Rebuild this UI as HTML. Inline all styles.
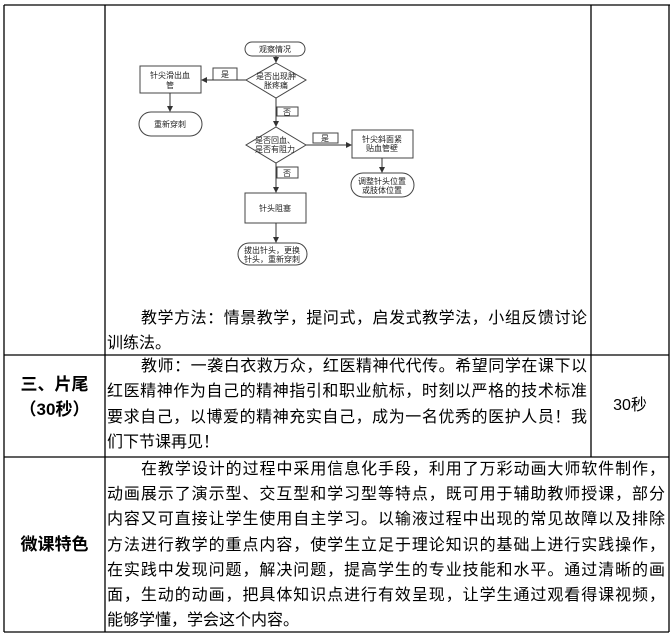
<!DOCTYPE html>
<html><head><meta charset="utf-8"><style>
html,body{margin:0;padding:0;background:#fff;}
body{width:670px;height:636px;position:relative;overflow:hidden;font-family:"Liberation Sans","Noto Sans CJK SC",sans-serif;color:#000;}
.l{position:absolute;height:25px;line-height:25px;font-size:16px;white-space:nowrap;}
.j{text-align:justify;text-align-last:justify;white-space:normal;}
.b{font-weight:bold;font-size:17px;}
.ft{font-family:"Liberation Sans","Noto Sans CJK SC",sans-serif;font-size:8px;fill:#222;}
</style></head><body>
<svg width="670" height="636" style="position:absolute;left:0;top:0">
<g stroke="#000" stroke-width="1.3" fill="none">
<line x1="4" y1="5" x2="670" y2="5"/>
<line x1="4" y1="5" x2="4" y2="632"/>
<line x1="105" y1="5" x2="105" y2="632"/>
<line x1="591" y1="5" x2="591" y2="457"/>
<line x1="669" y1="5" x2="669" y2="632"/>
<line x1="4" y1="355" x2="669" y2="355"/>
<line x1="4" y1="457" x2="669" y2="457"/>
<line x1="4" y1="632" x2="669" y2="632"/>
</g>
<defs><marker id="a" markerWidth="6" markerHeight="6" refX="5" refY="3" orient="auto"><path d="M0,0 L6,3 L0,6z" fill="#333"/></marker></defs>
<g stroke="#444" stroke-width="1" fill="#fff">
<rect x="245" y="42" width="60" height="14" rx="7"/>
<polygon points="276,63 306,80 276,98 246,80"/>
<rect x="140" y="66" width="61" height="27"/>
<rect x="139" y="112" width="63" height="24" rx="12"/>
<polygon points="276,127 306,145 276,163 246,145"/>
<rect x="352" y="130" width="61" height="28"/>
<rect x="351" y="173" width="63" height="24" rx="12"/>
<rect x="245" y="193" width="61" height="30"/>
<rect x="238" y="243" width="69" height="22" rx="11"/>
<rect x="213" y="68" width="24" height="12"/>
<rect x="277" y="107" width="21" height="9"/>
<rect x="313" y="133" width="25" height="10"/>
<rect x="277" y="167" width="21" height="11"/>
</g>
<g stroke="#333" stroke-width="1" fill="none" marker-end="url(#a)">
<line x1="276" y1="56" x2="276" y2="62"/>
<line x1="246" y1="80" x2="202" y2="80"/>
<line x1="170" y1="93" x2="170" y2="111"/>
<line x1="276" y1="98" x2="276" y2="126"/>
<line x1="306" y1="145" x2="351" y2="145"/>
<line x1="382" y1="158" x2="382" y2="172"/>
<line x1="276" y1="163" x2="276" y2="192"/>
<line x1="276" y1="223" x2="276" y2="242"/>
</g>
<text class="ft" x="275" y="52" text-anchor="middle">观察情况</text>
<text class="ft" x="276" y="79" text-anchor="middle">是否出现肿</text>
<text class="ft" x="276" y="88" text-anchor="middle">胀疼痛</text>
<text class="ft" x="170" y="78" text-anchor="middle">针尖滑出血</text>
<text class="ft" x="170" y="88" text-anchor="middle">管</text>
<text class="ft" x="170" y="127" text-anchor="middle">重新穿刺</text>
<text class="ft" x="225" y="77" text-anchor="middle">是</text>
<text class="ft" x="287" y="115" text-anchor="middle">否</text>
<text class="ft" x="275" y="143" text-anchor="middle">是否回血、</text>
<text class="ft" x="275" y="152" text-anchor="middle">是否有阻力</text>
<text class="ft" x="325" y="141" text-anchor="middle">是</text>
<text class="ft" x="382" y="142" text-anchor="middle">针尖斜面紧</text>
<text class="ft" x="382" y="151" text-anchor="middle">贴血管壁</text>
<text class="ft" x="382" y="184" text-anchor="middle">调整针头位置</text>
<text class="ft" x="382" y="193" text-anchor="middle">或肢体位置</text>
<text class="ft" x="287" y="176" text-anchor="middle">否</text>
<text class="ft" x="275" y="211" text-anchor="middle">针头阻塞</text>
<text class="ft" x="272" y="253" text-anchor="middle">拔出针头，更换</text>
<text class="ft" x="272" y="262" text-anchor="middle">针头，重新穿刺</text>
</svg>

<div class="l j" style="left:141px;top:306px;width:446px">教学方法：情景教学，提问式，启发式教学法，小组反馈讨论</div>
<div class="l" style="left:107px;top:331px">训练法。</div>

<div class="l b" style="left:4px;width:101px;text-align:center;top:372px">三、片尾</div>
<div class="l b" style="left:4px;width:101px;text-align:center;top:397px">（30秒）</div>
<div class="l j" style="left:141px;top:354px;width:446px">教师：一袭白衣救万众，红医精神代代传。希望同学在课下以</div>
<div class="l j" style="left:107px;top:379px;width:480px">红医精神作为自己的精神指引和职业航标，时刻以严格的技术标准</div>
<div class="l j" style="left:107px;top:405px;width:480px">要求自己，以博爱的精神充实自己，成为一名优秀的医护人员！我</div>
<div class="l" style="left:107px;top:430px">们下节课再见！</div>
<div class="l" style="left:591px;width:78px;text-align:center;top:393px">30秒</div>

<div class="l b" style="left:4px;width:101px;text-align:center;top:532px">微课特色</div>
<div class="l j" style="left:141px;top:457px;width:524px">在教学设计的过程中采用信息化手段，利用了万彩动画大师软件制作，</div>
<div class="l j" style="left:107px;top:482px;width:558px">动画展示了演示型、交互型和学习型等特点，既可用于辅助教师授课，部分</div>
<div class="l j" style="left:107px;top:507px;width:558px">内容又可直接让学生使用自主学习。以输液过程中出现的常见故障以及排除</div>
<div class="l j" style="left:107px;top:533px;width:558px">方法进行教学的重点内容，使学生立足于理论知识的基础上进行实践操作，</div>
<div class="l j" style="left:107px;top:558px;width:558px">在实践中发现问题，解决问题，提高学生的专业技能和水平。通过清晰的画</div>
<div class="l j" style="left:107px;top:583px;width:558px">面，生动的动画，把具体知识点进行有效呈现，让学生通过观看得课视频，</div>
<div class="l" style="left:107px;top:608px">能够学懂，学会这个内容。</div>
</body></html>
